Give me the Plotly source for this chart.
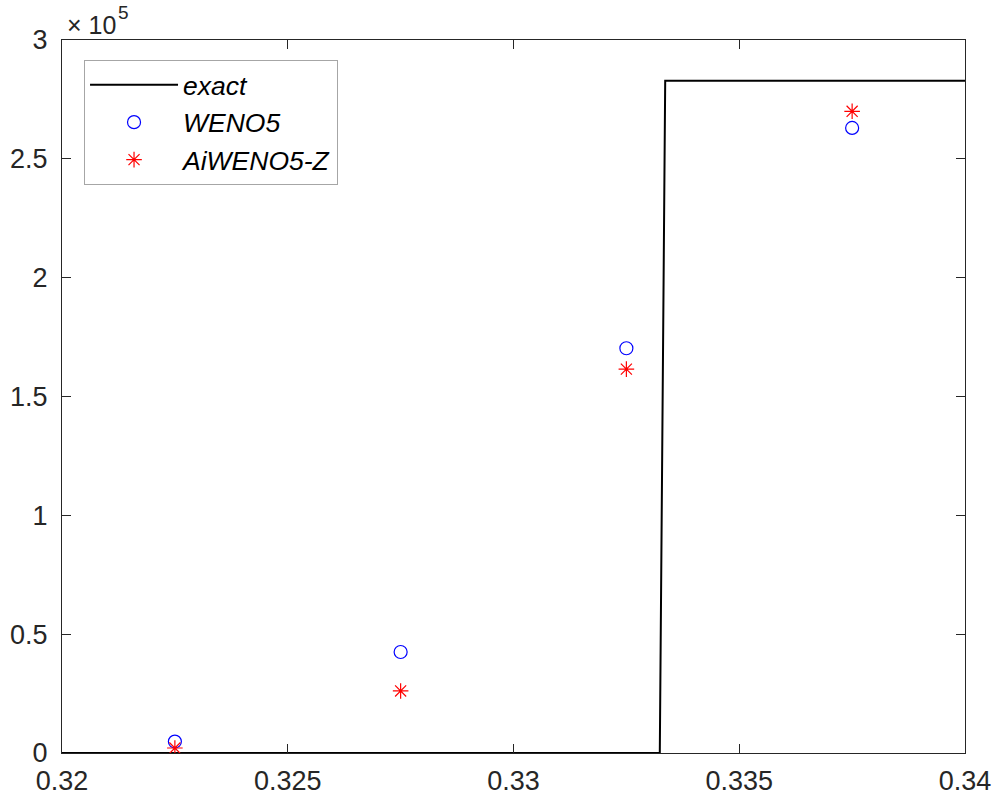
import plotly.graph_objects as go

# exact solution (step)
x_exact = [0.32, 0.33324, 0.33336, 0.34]
y_exact = [0.0, 0.0, 2.829e5, 2.829e5]

# numerical solutions at cell centres
x_cells = [0.3225, 0.3275, 0.3325, 0.3375]
y_weno5 = [4800, 42500, 170300, 263000]
y_aiweno5z = [2100, 26100, 161500, 270000]

ytick_vals = [0, 50000, 100000, 150000, 200000, 250000, 300000]
ytick_text = ["0", "0.5", "1", "1.5", "2", "2.5", "3"]
xtick_vals = [0.32, 0.325, 0.33, 0.335, 0.34]
xtick_text = ["0.32", "0.325", "0.33", "0.335", "0.34"]

FONT = "Liberation Sans, Arial, sans-serif"
AXC = "#262626"

fig = go.Figure()
fig.add_trace(go.Scatter(x=x_exact, y=y_exact, mode="lines", name="<i>exact</i>",
                         line=dict(color="black", width=2), cliponaxis=False))
fig.add_trace(go.Scatter(x=x_cells, y=y_weno5, mode="markers", name="<i>WENO5</i>",
                         marker=dict(symbol="circle-open", size=13, color="#0000ff",
                                     line=dict(width=1.2, color="#0000ff"))))
fig.add_trace(go.Scatter(x=x_cells, y=y_aiweno5z, mode="markers", name="<i>AiWENO5-Z</i>",
                         marker=dict(symbol="asterisk-open", size=13, color="#ff0000",
                                     line=dict(width=1.2, color="#ff0000"))))

axis_common = dict(showgrid=False, zeroline=False, showline=True, linecolor=AXC, linewidth=1,
                   mirror="ticks", ticks="inside", ticklen=9, tickwidth=1, tickcolor=AXC,
                   automargin=False,
                   tickfont=dict(family=FONT, size=27, color=AXC))

fig.update_xaxes(range=[0.32, 0.34], tickvals=xtick_vals, ticktext=xtick_text,
                 ticklabelstandoff=4, **axis_common)
fig.update_yaxes(range=[0, 300000], tickvals=ytick_vals, ticktext=ytick_text,
                 ticklabelstandoff=8, **axis_common)

# exponent label "×10^5"
fig.add_annotation(xref="paper", yref="paper", x=0.0033, y=1.021, xanchor="left", yanchor="middle",
                   showarrow=False, text="× 10",
                   font=dict(family=FONT, size=25, color=AXC))
fig.add_annotation(xref="paper", yref="paper", x=0.0598, y=1.038, xanchor="left", yanchor="middle",
                   showarrow=False, text="5",
                   font=dict(family=FONT, size=19, color=AXC))

fig.update_layout(
    width=999, height=800,
    margin=dict(l=62, r=34, t=40, b=47, autoexpand=False),
    paper_bgcolor="white", plot_bgcolor="white",
    showlegend=True,
    legend=dict(x=0.0244, y=0.972, xanchor="left", yanchor="top",
                bgcolor="white", bordercolor="#a6a6a6", borderwidth=1,
                font=dict(family=FONT, size=26.5, color="black"),
                itemwidth=88, tracegroupgap=0),
)

fig.write_html("out.html")
